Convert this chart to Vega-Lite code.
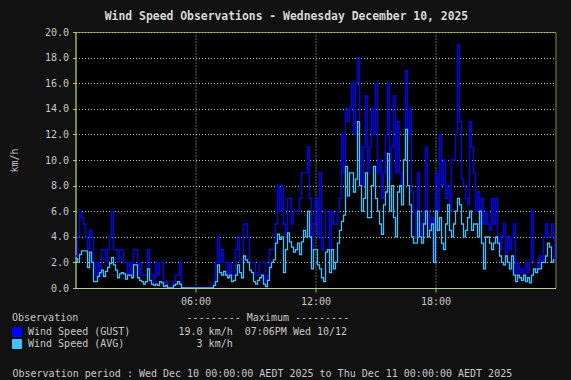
{
  "$schema": "https://vega.github.io/schema/vega-lite/v6.json",
  "width": 480,
  "height": 256,
  "autosize": {"type": "none"},
  "padding": {"left": 75.5, "top": 32, "right": 15.5, "bottom": 92},
  "background": "#111111",
  "title": {
    "text": "Wind Speed Observations - Wednesday December 10, 2025",
    "font": "DejaVu Sans Mono",
    "fontSize": 11.4,
    "fontWeight": "bold",
    "color": "#d8d8d8",
    "anchor": "middle",
    "dx": -29,
    "offset": 5
  },
  "config": {
    "view": {"fill": "#000000", "stroke": "#8a8c40", "strokeWidth": 1},
    "axis": {
      "labelFont": "DejaVu Sans Mono",
      "labelFontSize": 10,
      "labelColor": "#c8c8c8",
      "labelOverlap": false,
      "titleFont": "DejaVu Sans Mono",
      "titleFontSize": 10,
      "titleFontWeight": "normal",
      "titleColor": "#c8c8c8",
      "gridColor": "#a8d098",
      "gridDash": [1, 2],
      "gridOpacity": 1,
      "gridWidth": 1,
      "tickColor": "#a8c870",
      "tickSize": 3
    }
  },
  "data": {
    "values": [
      {"hour":0.0,"gust":2.5,"avg":2.3},{"hour":0.1,"gust":4,"avg":2.0},{"hour":0.2,"gust":6,"avg":2.6},{"hour":0.3,"gust":5.5,"avg":2.9},{"hour":0.4,"gust":5,"avg":2.9},{"hour":0.5,"gust":4,"avg":2.9},{"hour":0.6,"gust":3,"avg":1.6},{"hour":0.7,"gust":4.5,"avg":2.8},{"hour":0.8,"gust":4,"avg":2.0},{"hour":0.9,"gust":2,"avg":0.5},
      {"hour":1.0,"gust":1,"avg":0.5},{"hour":1.1,"gust":2,"avg":0.9},{"hour":1.2,"gust":1,"avg":1.2},{"hour":1.3,"gust":3,"avg":1.4},{"hour":1.4,"gust":3,"avg":0.9},{"hour":1.5,"gust":2,"avg":1.3},{"hour":1.6,"gust":3,"avg":1.6},{"hour":1.7,"gust":4,"avg":1.9},{"hour":1.8,"gust":6,"avg":2.4},{"hour":1.9,"gust":3,"avg":1.8},
      {"hour":2.0,"gust":3,"avg":1.4},{"hour":2.1,"gust":2,"avg":0.8},{"hour":2.2,"gust":3,"avg":1.1},{"hour":2.3,"gust":3,"avg":1.2},{"hour":2.4,"gust":2,"avg":1.1},{"hour":2.5,"gust":2,"avg":0.7},{"hour":2.6,"gust":1,"avg":1.0},{"hour":2.7,"gust":2,"avg":1.0},{"hour":2.8,"gust":1,"avg":0.8},{"hour":2.9,"gust":3,"avg":1.8},
      {"hour":3.0,"gust":3,"avg":1.8},{"hour":3.1,"gust":1,"avg":0.8},{"hour":3.2,"gust":2,"avg":0.6},{"hour":3.3,"gust":1,"avg":0.5},{"hour":3.4,"gust":1,"avg":0.3},{"hour":3.5,"gust":1,"avg":0.5},{"hour":3.6,"gust":3,"avg":1.5},{"hour":3.7,"gust":1,"avg":0.6},{"hour":3.8,"gust":1,"avg":0.3},{"hour":3.9,"gust":0.5,"avg":0.2},
      {"hour":4.0,"gust":2,"avg":0.3},{"hour":4.1,"gust":1,"avg":0.2},{"hour":4.2,"gust":2,"avg":0.5},{"hour":4.3,"gust":2,"avg":0.4},{"hour":4.4,"gust":0.5,"avg":0.1},{"hour":4.5,"gust":0.5,"avg":0.2},{"hour":4.6,"gust":0,"avg":0},{"hour":4.7,"gust":0,"avg":0},{"hour":4.8,"gust":0,"avg":0},{"hour":4.9,"gust":0.5,"avg":0.2},
      {"hour":5.0,"gust":1,"avg":0.3},{"hour":5.1,"gust":1,"avg":0.5},{"hour":5.2,"gust":2,"avg":0.3},{"hour":5.3,"gust":0,"avg":0},{"hour":5.4,"gust":0,"avg":0},{"hour":5.5,"gust":0,"avg":0},{"hour":5.6,"gust":0,"avg":0},{"hour":5.7,"gust":0,"avg":0},{"hour":5.8,"gust":0,"avg":0},{"hour":5.9,"gust":0,"avg":0},
      {"hour":6.0,"gust":0,"avg":0},{"hour":6.1,"gust":0,"avg":0},{"hour":6.2,"gust":0,"avg":0},{"hour":6.3,"gust":0,"avg":0},{"hour":6.4,"gust":0,"avg":0},{"hour":6.5,"gust":0,"avg":0},{"hour":6.6,"gust":0,"avg":0},{"hour":6.7,"gust":0,"avg":0},{"hour":6.8,"gust":0,"avg":0},{"hour":6.9,"gust":0.5,"avg":0.2},
      {"hour":7.0,"gust":2,"avg":0.5},{"hour":7.1,"gust":4,"avg":1.8},{"hour":7.2,"gust":2,"avg":1.2},{"hour":7.3,"gust":3,"avg":1.0},{"hour":7.4,"gust":2,"avg":1.3},{"hour":7.5,"gust":2,"avg":1.0},{"hour":7.6,"gust":1,"avg":0.8},{"hour":7.7,"gust":2,"avg":1.0},{"hour":7.8,"gust":1,"avg":0.5},{"hour":7.9,"gust":1,"avg":0.6},
      {"hour":8.0,"gust":3,"avg":1.0},{"hour":8.1,"gust":4,"avg":1.8},{"hour":8.2,"gust":2,"avg":1.2},{"hour":8.3,"gust":2,"avg":0.8},{"hour":8.4,"gust":5,"avg":2.5},{"hour":8.5,"gust":5,"avg":2.2},{"hour":8.6,"gust":4,"avg":2.0},{"hour":8.7,"gust":2,"avg":1.4},{"hour":8.8,"gust":2,"avg":1.2},{"hour":8.9,"gust":2,"avg":0.5},
      {"hour":9.0,"gust":1,"avg":0.3},{"hour":9.1,"gust":1,"avg":0.6},{"hour":9.2,"gust":2,"avg":0.8},{"hour":9.3,"gust":2,"avg":1.0},{"hour":9.4,"gust":2,"avg":0.3},{"hour":9.5,"gust":0.5,"avg":0.1},{"hour":9.6,"gust":1,"avg":0.6},{"hour":9.7,"gust":3,"avg":1.6},{"hour":9.8,"gust":3,"avg":2.0},{"hour":9.9,"gust":3,"avg":2.2},
      {"hour":10.0,"gust":5,"avg":3.5},{"hour":10.1,"gust":8,"avg":4.2},{"hour":10.2,"gust":6,"avg":3.8},{"hour":10.3,"gust":8,"avg":4.0},{"hour":10.4,"gust":5,"avg":1.2},{"hour":10.5,"gust":4,"avg":3.0},{"hour":10.6,"gust":7,"avg":4.3},{"hour":10.7,"gust":7,"avg":3.6},{"hour":10.8,"gust":5,"avg":3.2},{"hour":10.9,"gust":6,"avg":2.8},
      {"hour":11.0,"gust":6,"avg":3.0},{"hour":11.1,"gust":6,"avg":3.5},{"hour":11.2,"gust":7,"avg":2.6},{"hour":11.3,"gust":9,"avg":3.6},{"hour":11.4,"gust":9,"avg":4.5},{"hour":11.5,"gust":9,"avg":4.0},{"hour":11.6,"gust":11,"avg":6.0},{"hour":11.7,"gust":7,"avg":4.0},{"hour":11.8,"gust":3,"avg":1.5},{"hour":11.9,"gust":5,"avg":3.0},
      {"hour":12.0,"gust":7,"avg":3.0},{"hour":12.1,"gust":4,"avg":1.8},{"hour":12.2,"gust":9,"avg":1.5},{"hour":12.3,"gust":3,"avg":0.8},{"hour":12.4,"gust":4,"avg":0.5},{"hour":12.5,"gust":6,"avg":2.8},{"hour":12.6,"gust":6,"avg":3.0},{"hour":12.7,"gust":3,"avg":1.2},{"hour":12.8,"gust":6,"avg":3.0},{"hour":12.9,"gust":5,"avg":1.5},
      {"hour":13.0,"gust":5,"avg":2.0},{"hour":13.1,"gust":6,"avg":3.5},{"hour":13.2,"gust":7,"avg":4.5},{"hour":13.3,"gust":12,"avg":5.2},{"hour":13.4,"gust":9,"avg":5.7},{"hour":13.5,"gust":14,"avg":9.5},{"hour":13.6,"gust":13,"avg":7.2},{"hour":13.7,"gust":14,"avg":9.0},{"hour":13.8,"gust":16,"avg":9.0},{"hour":13.9,"gust":12,"avg":7.5},
      {"hour":14.0,"gust":16,"avg":8.5},{"hour":14.1,"gust":18,"avg":13},{"hour":14.2,"gust":11,"avg":8},{"hour":14.3,"gust":8,"avg":6},{"hour":14.4,"gust":11,"avg":7},{"hour":14.5,"gust":15,"avg":9},{"hour":14.6,"gust":9,"avg":5.5},{"hour":14.7,"gust":11,"avg":5.5},{"hour":14.8,"gust":14,"avg":8},{"hour":14.9,"gust":12,"avg":9.5},
      {"hour":15.0,"gust":16,"avg":7},{"hour":15.1,"gust":9,"avg":6},{"hour":15.2,"gust":10,"avg":5},{"hour":15.3,"gust":7,"avg":4.2},{"hour":15.4,"gust":9,"avg":6.5},{"hour":15.5,"gust":12,"avg":7.5},{"hour":15.6,"gust":16,"avg":10.5},{"hour":15.7,"gust":8.5,"avg":6},{"hour":15.8,"gust":11,"avg":8},{"hour":15.9,"gust":15,"avg":5.5},
      {"hour":16.0,"gust":9,"avg":4},{"hour":16.1,"gust":13,"avg":7.5},{"hour":16.2,"gust":9,"avg":8},{"hour":16.3,"gust":8,"avg":6.5},{"hour":16.4,"gust":10,"avg":10},{"hour":16.5,"gust":17,"avg":12.4},{"hour":16.6,"gust":12,"avg":8},{"hour":16.7,"gust":14,"avg":6.5},{"hour":16.8,"gust":7.5,"avg":4},{"hour":16.9,"gust":6,"avg":3.5},
      {"hour":17.0,"gust":4,"avg":3.5},{"hour":17.1,"gust":9,"avg":6},{"hour":17.2,"gust":5,"avg":4},{"hour":17.3,"gust":4,"avg":3.5},{"hour":17.4,"gust":6,"avg":5},{"hour":17.5,"gust":11,"avg":6},{"hour":17.6,"gust":6,"avg":4},{"hour":17.7,"gust":4.5,"avg":4.5},{"hour":17.8,"gust":5.5,"avg":5},{"hour":17.9,"gust":2,"avg":2},
      {"hour":18.0,"gust":9,"avg":6},{"hour":18.1,"gust":6,"avg":4.5},{"hour":18.2,"gust":12,"avg":5.5},{"hour":18.3,"gust":8,"avg":3.5},{"hour":18.4,"gust":10,"avg":3},{"hour":18.5,"gust":7,"avg":5},{"hour":18.6,"gust":8,"avg":6.5},{"hour":18.7,"gust":6,"avg":4.5},{"hour":18.8,"gust":10,"avg":4},{"hour":18.9,"gust":10,"avg":5},
      {"hour":19.0,"gust":12,"avg":6},{"hour":19.1,"gust":19,"avg":7},{"hour":19.2,"gust":13,"avg":6.5},{"hour":19.3,"gust":8.5,"avg":5},{"hour":19.4,"gust":8,"avg":4},{"hour":19.5,"gust":7,"avg":4.5},{"hour":19.6,"gust":6.5,"avg":5.5},{"hour":19.7,"gust":13,"avg":6},{"hour":19.8,"gust":11,"avg":4.5},{"hour":19.9,"gust":9,"avg":5},
      {"hour":20.0,"gust":6,"avg":5},{"hour":20.1,"gust":7.5,"avg":4},{"hour":20.2,"gust":5,"avg":6},{"hour":20.3,"gust":7,"avg":3.5},{"hour":20.4,"gust":5,"avg":1.5},{"hour":20.5,"gust":6,"avg":4},{"hour":20.6,"gust":5,"avg":4},{"hour":20.7,"gust":4.5,"avg":3.5},{"hour":20.8,"gust":7,"avg":3},{"hour":20.9,"gust":5,"avg":3.5},
      {"hour":21.0,"gust":7,"avg":4},{"hour":21.1,"gust":4,"avg":3.5},{"hour":21.2,"gust":3,"avg":2.5},{"hour":21.3,"gust":4,"avg":2},{"hour":21.4,"gust":5,"avg":1.8},{"hour":21.5,"gust":2,"avg":2.5},{"hour":21.6,"gust":4,"avg":2},{"hour":21.7,"gust":3,"avg":1.5},{"hour":21.8,"gust":4,"avg":2.5},{"hour":21.9,"gust":5,"avg":1},
      {"hour":22.0,"gust":1,"avg":0.5},{"hour":22.1,"gust":2,"avg":1},{"hour":22.2,"gust":1.2,"avg":0.8},{"hour":22.3,"gust":1.5,"avg":0.6},{"hour":22.4,"gust":0.8,"avg":1},{"hour":22.5,"gust":2,"avg":0.5},{"hour":22.6,"gust":1.2,"avg":0.8},{"hour":22.7,"gust":2,"avg":0.4},{"hour":22.8,"gust":6,"avg":1},{"hour":22.9,"gust":2,"avg":1.5},
      {"hour":23.0,"gust":2,"avg":1.2},{"hour":23.1,"gust":1.5,"avg":1.5},{"hour":23.2,"gust":2.5,"avg":1.5},{"hour":23.3,"gust":2,"avg":2},{"hour":23.4,"gust":4,"avg":2},{"hour":23.5,"gust":5,"avg":2.5},{"hour":23.6,"gust":4,"avg":3.5},{"hour":23.7,"gust":4,"avg":3.2},{"hour":23.8,"gust":5,"avg":2},{"hour":23.9,"gust":4,"avg":2.2},
      {"hour":23.95,"gust":2,"avg":2.2}
    ]
  },
  "transform": [{"fold": ["gust", "avg"], "as": ["series", "speed"]}],
  "mark": {"type": "line", "interpolate": "step-after", "strokeWidth": 1.3, "clip": true},
  "encoding": {
    "x": {
      "field": "hour",
      "type": "quantitative",
      "scale": {"domain": [0, 24], "nice": false, "zero": false},
      "axis": {
        "values": [6, 12, 18],
        "labelExpr": "(datum.value < 10 ? '0' : '') + datum.value + ':00'",
        "domainColor": "#b0d0a0",
        "labelPadding": 4,
        "tickSize": 4,
        "title": "Observation period : Wed Dec 10 00:00:00 AEDT 2025 to Thu Dec 11 00:00:00 AEDT 2025",
        "titleAnchor": "start",
        "titleAlign": "left",
        "titleBaseline": "alphabetic",
        "titleX": -63.5,
        "titleY": 88
      }
    },
    "y": {
      "field": "speed",
      "type": "quantitative",
      "scale": {"domain": [0, 20], "nice": false},
      "axis": {
        "values": [0, 2, 4, 6, 8, 10, 12, 14, 16, 18, 20],
        "format": ".1f",
        "domainColor": "#a8c870",
        "labelPadding": 4,
        "labelOverlap": false,
        "title": "km/h",
        "titleAngle": -90,
        "titleX": -61.5,
        "titleY": 128,
        "titleAlign": "center",
        "titleBaseline": "middle"
      }
    },
    "color": {
      "field": "series",
      "type": "nominal",
      "sort": ["gust", "avg"],
      "scale": {"domain": ["gust", "avg"], "range": ["#0000ff", "#40c0ff"]},
      "legend": {
        "orient": "none",
        "legendX": -63.5,
        "legendY": 281,
        "direction": "vertical",
        "padding": 0,
        "title": "Observation\u00a0\u00a0\u00a0\u00a0\u00a0\u00a0\u00a0\u00a0\u00a0\u00a0\u00a0\u00a0\u00a0\u00a0\u00a0\u00a0\u00a0\u00a0--------- Maximum ---------",
        "titleFont": "DejaVu Sans Mono",
        "titleFontSize": 10,
        "titleFontWeight": "normal",
        "titleColor": "#c8c8c8",
        "titleLimit": 500,
        "titlePadding": 4,
        "labelFont": "DejaVu Sans Mono",
        "labelFontSize": 10,
        "labelColor": "#c8c8c8",
        "labelLimit": 500,
        "labelOffset": 6,
        "rowPadding": -2,
        "symbolType": "square",
        "symbolSize": 81,
        "symbolStrokeWidth": 1,
        "labelExpr": "datum.label == 'gust' ? 'Wind Speed (GUST)\u00a0\u00a0\u00a0\u00a0\u00a0\u00a0\u00a0\u00a019.0 km/h\u00a0\u00a007:06PM Wed 10/12' : 'Wind Speed (AVG)\u00a0\u00a0\u00a0\u00a0\u00a0\u00a0\u00a0\u00a0\u00a0\u00a0\u00a0\u00a03 km/h'",
        "encode": {
          "symbols": {
            "update": {
              "fill": {"scale": "color", "field": "value"},
              "fillOpacity": {"value": 1},
              "stroke": {"value": "#909090"},
              "shape": {"value": "square"}
            }
          }
        }
      }
    }
  }
}
